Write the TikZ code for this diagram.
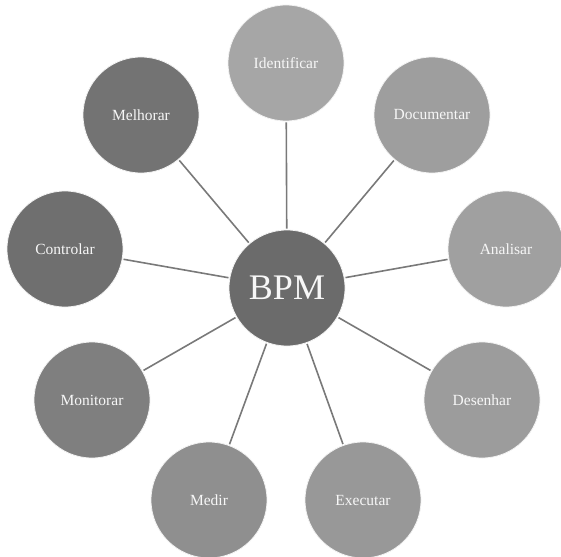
\documentclass[tikz,border=0pt]{standalone}
\usepackage{fontspec}
\setmainfont{Liberation Serif}
\begin{document}
\begin{tikzpicture}[x=1pt,y=-1pt,
  bub/.style={circle, minimum size=116pt, inner sep=0pt, draw=white!90!gray, line width=0.8pt,
    text=white!94!gray, font=\fontsize{15.5}{18}\selectfont},
  link/.style={draw=gray!95!black, line width=1.6pt}]
\useasboundingbox (0,0) rectangle (561,556);
\definecolor{cIde}{HTML}{A6A6A6}
\definecolor{cDoc}{HTML}{9E9E9E}
\definecolor{cAna}{HTML}{A0A0A0}
\definecolor{cDes}{HTML}{9C9C9C}
\definecolor{cExe}{HTML}{989898}
\definecolor{cMed}{HTML}{8F8F8F}
\definecolor{cMon}{HTML}{7F7F7F}
\definecolor{cCon}{HTML}{6F6F6F}
\definecolor{cMel}{HTML}{737373}
\definecolor{cBpm}{HTML}{6B6B6B}
\node[bub, fill=cIde] (ide) at (286,63) {Identificar};
\node[bub, fill=cDoc] (doc) at (432,115) {Documentar};
\node[bub, fill=cAna] (ana) at (506,249) {Analisar};
\node[bub, fill=cDes] (des) at (482,400) {Desenhar};
\node[bub, fill=cExe] (exe) at (363,500) {Executar};
\node[bub, fill=cMed] (med) at (209,500) {Medir};
\node[bub, fill=cMon] (mon) at (92,400) {Monitorar};
\node[bub, fill=cCon] (con) at (65,249) {Controlar};
\node[bub, fill=cMel] (mel) at (141,115) {Melhorar};
\node[bub, fill=cBpm, font=\fontsize{36}{40}\selectfont] (bpm) at (287,288) {BPM};
\foreach \n in {ide,doc,ana,des,exe,med,mon,con,mel}
  \draw[link, shorten <=1pt, shorten >=1pt] (bpm) -- (\n);
\end{tikzpicture}
\end{document}
